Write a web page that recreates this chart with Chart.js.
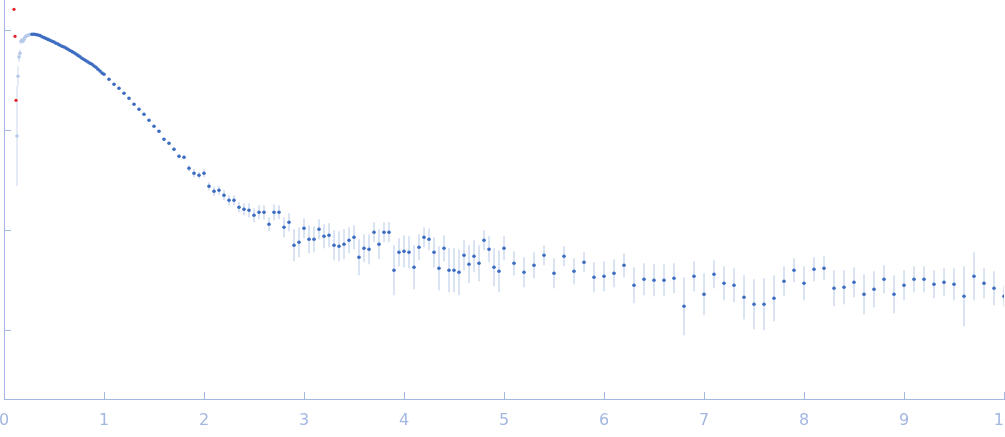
<!DOCTYPE html>
<html>
<head>
<meta charset="utf-8">
<script src="https://cdn.jsdelivr.net/npm/chart.js@4.4.1/dist/chart.umd.min.js"></script>
<style>
    html, body { margin: 0; padding: 0; background: #fff; overflow: hidden; }
    #wrap { width: 1005px; height: 437px; position: relative; }
</style>
</head>
<body>
<div id="wrap"><canvas id="profileChart"></canvas></div>
<script>
// Scattering profile: x = q, y = log10(I), err = error in log units

// outliers (red)
const redQ = [0.10, 0.11, 0.12];
const redI = [3.207, 2.937, 2.297];

// excluded low-q points (light blue)
const lightQ = [0.13, 0.14, 0.15, 0.16, 0.17, 0.18, 0.19, 0.20, 0.21, 0.22, 0.23, 0.24, 0.25, 0.26];
const lightI = [1.94, 2.537, 2.73, 2.767, 2.887, 2.897, 2.887, 2.907, 2.927, 2.937, 2.943, 2.947, 2.953, 2.955];
const lightErr = [0.5, 0.1, 0.05, 0.04, 0.03, 0.02, 0.02, 0.02, 0.01, 0.01, 0.01, 0.01, 0.01, 0.01];

// used points, dense part
const denseQ = [0.28, 0.30, 0.32, 0.34, 0.36, 0.38, 0.40, 0.42, 0.44, 0.46, 0.48, 0.50, 0.52, 0.54, 0.56, 0.58,
    0.60, 0.62, 0.64, 0.66, 0.68, 0.70, 0.72, 0.74, 0.76, 0.78, 0.80, 0.82, 0.84, 0.86, 0.88, 0.90, 0.92, 0.94,
    0.96, 0.98, 1.00];
const denseI = [2.957, 2.958, 2.954, 2.950, 2.944, 2.932, 2.924, 2.915, 2.906, 2.897, 2.888, 2.880, 2.868, 2.859,
    2.848, 2.838, 2.830, 2.819, 2.807, 2.795, 2.784, 2.772, 2.760, 2.746, 2.732, 2.718, 2.705, 2.693, 2.680, 2.667,
    2.657, 2.640, 2.627, 2.607, 2.590, 2.570, 2.557];
const denseErr = [0.004, 0.004, 0.004, 0.004, 0.004, 0.004, 0.004, 0.004, 0.004, 0.004, 0.004, 0.004, 0.004, 0.004,
    0.004, 0.004, 0.004, 0.004, 0.004, 0.004, 0.004, 0.005, 0.005, 0.005, 0.005, 0.005, 0.005, 0.005, 0.005, 0.005,
    0.005, 0.005, 0.005, 0.005, 0.005, 0.005, 0.005];

// used points, mid range
const midQ = [1.05, 1.10, 1.15, 1.20, 1.25, 1.30, 1.35, 1.40, 1.45, 1.50, 1.55, 1.60, 1.65, 1.70, 1.75, 1.80,
    1.85, 1.90, 1.95, 2.00, 2.05, 2.10, 2.15, 2.20, 2.25, 2.30, 2.35, 2.40, 2.45, 2.50, 2.55, 2.60, 2.65, 2.70,
    2.75, 2.80, 2.85, 2.90, 2.95, 3.00, 3.05, 3.10, 3.15, 3.20, 3.25, 3.30, 3.35, 3.40, 3.45, 3.50, 3.55, 3.60,
    3.65, 3.70, 3.75, 3.80, 3.85, 3.90, 3.95, 4.00, 4.05, 4.10, 4.15, 4.20, 4.25, 4.30, 4.35, 4.40, 4.45, 4.50,
    4.55, 4.60, 4.65, 4.70, 4.75, 4.80, 4.85, 4.90, 4.95];
const midI = [2.507, 2.457, 2.417, 2.367, 2.317, 2.257, 2.207, 2.157, 2.097, 2.037, 1.987, 1.907, 1.867, 1.807,
    1.737, 1.727, 1.617, 1.567, 1.547, 1.567, 1.437, 1.387, 1.397, 1.347, 1.297, 1.297, 1.227, 1.207, 1.197,
    1.147, 1.177, 1.177, 1.057, 1.177, 1.177, 1.027, 1.077, 0.847, 0.877, 1.017, 0.907, 0.907, 1.007, 0.937,
    0.947, 0.847, 0.837, 0.857, 0.897, 0.927, 0.727, 0.817, 0.807, 0.977, 0.857, 0.977, 0.977, 0.597, 0.777,
    0.787, 0.777, 0.627, 0.827, 0.927, 0.907, 0.777, 0.617, 0.817, 0.597, 0.597, 0.577, 0.747, 0.657, 0.737,
    0.667, 0.897, 0.807, 0.627, 0.587];
const midErr = [0.005, 0.005, 0.005, 0.005, 0.005, 0.005, 0.005, 0.005, 0.005, 0.01, 0.01, 0.015, 0.015, 0.02,
    0.02, 0.02, 0.03, 0.04, 0.035, 0.04, 0.04, 0.045, 0.045, 0.05, 0.05, 0.05, 0.05, 0.06, 0.07, 0.07, 0.07,
    0.07, 0.07, 0.08, 0.07, 0.10, 0.09, 0.16, 0.15, 0.10, 0.14, 0.13, 0.10, 0.12, 0.12, 0.15, 0.15, 0.15, 0.13,
    0.12, 0.18, 0.14, 0.15, 0.10, 0.15, 0.10, 0.10, 0.25, 0.14, 0.16, 0.16, 0.22, 0.13, 0.10, 0.11, 0.15, 0.22,
    0.13, 0.22, 0.22, 0.23, 0.15, 0.19, 0.16, 0.18, 0.10, 0.13, 0.19, 0.21];

// used points, wide angle
const wideQ = [5.0, 5.1, 5.2, 5.3, 5.4, 5.5, 5.6, 5.7, 5.8, 5.9, 6.0, 6.1, 6.2, 6.3, 6.4, 6.5, 6.6, 6.7, 6.8,
    6.9, 7.0, 7.1, 7.2, 7.3, 7.4, 7.5, 7.6, 7.7, 7.8, 7.9, 8.0, 8.1, 8.2, 8.3, 8.4, 8.5, 8.6, 8.7, 8.8, 8.9,
    9.0, 9.1, 9.2, 9.3, 9.4, 9.5, 9.6, 9.7, 9.8, 9.9, 10.0];
const wideI = [0.817, 0.667, 0.577, 0.647, 0.747, 0.567, 0.737, 0.587, 0.677, 0.527,
    0.537, 0.567, 0.647, 0.447, 0.507, 0.497, 0.497, 0.517, 0.237, 0.537,
    0.357, 0.557, 0.467, 0.447, 0.327, 0.257, 0.257, 0.317, 0.487, 0.597,
    0.467, 0.607, 0.617, 0.417, 0.427, 0.477, 0.357, 0.407, 0.507, 0.357,
    0.447, 0.507, 0.507, 0.457, 0.477, 0.457, 0.337, 0.537, 0.467, 0.417,
    0.337];
const wideErr = [0.12, 0.12, 0.15, 0.13, 0.10, 0.15, 0.10, 0.13, 0.10, 0.15,
    0.15, 0.14, 0.12, 0.18, 0.16, 0.16, 0.16, 0.15, 0.29, 0.15,
    0.21, 0.14, 0.17, 0.17, 0.22, 0.25, 0.26, 0.23, 0.15, 0.12,
    0.17, 0.12, 0.12, 0.18, 0.17, 0.15, 0.20, 0.18, 0.14, 0.19,
    0.15, 0.13, 0.13, 0.14, 0.14, 0.16, 0.30, 0.24, 0.15, 0.17,
    0.10];

const xTicks = [0, 1, 2, 3, 4, 5, 6, 7, 8, 9, 10];

const axisColor = "#a3b7e2";

// join the used-point segments
const usedQ = denseQ.concat(midQ, wideQ);
const usedI = denseI.concat(midI, wideI);
const usedErr = denseErr.concat(midErr, wideErr);

function toPoints(qs, is) {
    return qs.map((q, i) => ({ x: q, y: is[i] }));
}

// error bars as one broken line: low, high, gap
function toErrorBars(qs, is, errs) {
    const pts = [];
    qs.forEach((q, i) => {
        pts.push({ x: q, y: is[i] - errs[i] });
        pts.push({ x: q, y: is[i] + errs[i] });
        pts.push({ x: q, y: null });
    });
    return pts;
}

const ctx = document.getElementById("profileChart").getContext("2d");
new Chart(ctx, {
    type: "scatter",
    data: {
        datasets: [
            {
                label: "used",
                data: toPoints(usedQ, usedI),
                backgroundColor: "#3d6dc1",
                borderWidth: 0,
                pointRadius: 1.8,
                order: 1,
            },
            {
                label: "excluded",
                data: toPoints(lightQ, lightI),
                backgroundColor: "#b7cae9",
                borderWidth: 0,
                pointRadius: 1.8,
                order: 2,
            },
            {
                label: "outliers",
                data: toPoints(redQ, redI),
                backgroundColor: "#e8222b",
                borderWidth: 0,
                pointRadius: 1.6,
                order: 0,
            },
            {
                label: "used err",
                data: toErrorBars(usedQ, usedI, usedErr),
                showLine: true,
                spanGaps: false,
                borderColor: "rgba(168,190,226,0.85)",
                borderWidth: 1,
                pointRadius: 0,
                order: 10,
            },
            {
                label: "excluded err",
                data: toErrorBars(lightQ, lightI, lightErr),
                showLine: true,
                spanGaps: false,
                borderColor: "rgba(196,211,236,0.9)",
                borderWidth: 1,
                pointRadius: 0,
                order: 11,
            },
        ],
    },
    options: {
        responsive: true,
        maintainAspectRatio: false,
        animation: false,
        layout: {
            autoPadding: false,
            padding: { left: 0, right: 1, top: 0, bottom: 0 },
        },
        plugins: {
            legend: { display: false },
            tooltip: { enabled: false },
        },
        scales: {
            x: {
                type: "linear",
                min: 0,
                max: 10,
                afterBuildTicks: (scale) => {
                    scale.ticks = xTicks.map((v) => ({ value: v }));
                },
                afterFit: (scale) => {
                    scale.paddingLeft = 0;
                    scale.paddingRight = 0;
                    scale.height = 38;
                },
                border: { display: true, color: axisColor, width: 1 },
                grid: {
                    drawOnChartArea: false,
                    drawTicks: true,
                    tickLength: -7,
                    color: axisColor,
                },
                ticks: {
                    padding: 19,
                    color: axisColor,
                    maxRotation: 0,
                    autoSkip: false,
                    font: { family: "DejaVu Sans", size: 16 },
                },
            },
            y: {
                type: "linear",
                min: -0.69,
                max: 3.3,
                afterFit: (scale) => {
                    scale.width = 4;
                },
                border: { display: true, color: axisColor, width: 1 },
                grid: {
                    drawOnChartArea: false,
                    drawTicks: true,
                    tickLength: -7,
                    color: axisColor,
                },
                ticks: {
                    display: false,
                    stepSize: 1,
                    includeBounds: false,
                },
            },
        },
    },
});
</script>
</body>
</html>
